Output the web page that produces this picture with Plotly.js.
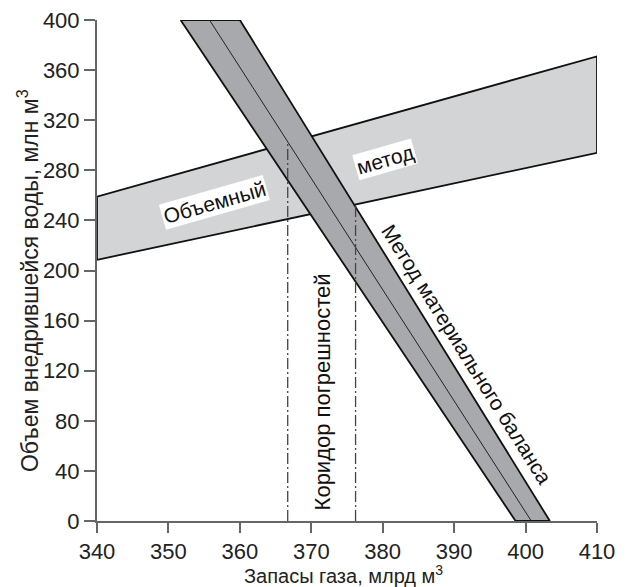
<!DOCTYPE html>
<html>
<head>
<meta charset="utf-8">
<script src="https://cdn.plot.ly/plotly-3.0.1.min.js"></script>
<style>html,body{margin:0;padding:0;background:#fff;}#chart{width:627px;height:587px;}</style>
</head>
<body>
<div id="chart"></div>
<script>
// Volumetric method band (x at left/right ends, lower and upper bounds)
const volX = [340, 410];
const volLower = [208.5, 294];
const volUpper = [259, 371];

// Material balance band: x positions at y = 400 (top) and y = 0 (bottom)
const mbY = [400, 0];
const mbLeftX = [351.7, 398.6];
const mbCenterX = [355.75, 400.8];
const mbRightX = [360, 403.4];

// Error corridor vertical lines
const corridorX = [366.7, 376.2];
const corridorTop = [301.5, 252.5];

const xTicks = [340, 350, 360, 370, 380, 390, 400, 410];
const yTicks = [0, 40, 80, 120, 160, 200, 240, 280, 320, 360, 400];

const xTitle = 'Запасы газа, млрд м<sup>3</sup>';
const yTitle = 'Объем внедрившейся воды, млн м<sup>3</sup>';

const FONT = 'Liberation Sans, Arial, Helvetica, sans-serif';

const traces = [
  {
    x: [volX[0], volX[1], volX[1], volX[0], volX[0]],
    y: [volLower[0], volLower[1], volUpper[1], volUpper[0], volLower[0]],
    mode: 'lines', fill: 'toself', fillcolor: '#d3d4d6',
    line: {color: '#111', width: 1.8}, cliponaxis: false, hoverinfo: 'skip'
  },
  {
    x: [mbLeftX[0], mbRightX[0], mbRightX[1], mbLeftX[1], mbLeftX[0]],
    y: [mbY[0], mbY[0], mbY[1], mbY[1], mbY[0]],
    mode: 'lines', fill: 'toself', fillcolor: '#a8a9ac',
    line: {color: '#111', width: 1.8}, cliponaxis: false, hoverinfo: 'skip'
  },
  {
    x: mbCenterX, y: mbY, mode: 'lines',
    line: {color: '#222', width: 1}, cliponaxis: false, hoverinfo: 'skip'
  },
  {
    x: [corridorX[0], corridorX[0]], y: [0, corridorTop[0]], mode: 'lines',
    line: {color: '#444', width: 1.3, dash: '11px,3px,2px,3px'}, hoverinfo: 'skip'
  },
  {
    x: [corridorX[1], corridorX[1]], y: [0, corridorTop[1]], mode: 'lines',
    line: {color: '#444', width: 1.3, dash: '11px,3px,2px,3px'}, hoverinfo: 'skip'
  }
];

const layout = {
  width: 627, height: 587,
  margin: {l: 97, r: 30, t: 20, b: 66},
  paper_bgcolor: '#fff', plot_bgcolor: '#fff',
  showlegend: false,
  font: {family: FONT, size: 22, color: '#222'},
  xaxis: {
    range: [340, 410], tickvals: xTicks, ticktext: xTicks.map(String),
    showgrid: false, zeroline: false, showline: true, linecolor: '#666', linewidth: 2,
    ticks: 'outside', ticklen: 10, tickwidth: 2, tickcolor: '#666',
    tickfont: {family: FONT, size: 22, color: '#222'},
    fixedrange: true
  },
  yaxis: {
    range: [0, 400], tickvals: yTicks, ticktext: yTicks.map(String),
    showgrid: false, zeroline: false, showline: true, linecolor: '#666', linewidth: 2,
    ticks: 'outside', ticklen: 11, tickwidth: 2, tickcolor: '#666',
    tickfont: {family: FONT, size: 22, color: '#222'},
    fixedrange: true
  },
  annotations: [
    {x: 0.492, y: -0.107, xref: 'paper', yref: 'paper', text: xTitle, showarrow: false,
     xanchor: 'center', yanchor: 'middle', font: {family: FONT, size: 20, color: '#222'}},
    {x: -0.138, y: 0.479, xref: 'paper', yref: 'paper', text: yTitle, showarrow: false,
     textangle: -90, xanchor: 'center', yanchor: 'middle', font: {family: FONT, size: 23, color: '#222'}},
    {x: 356.4, y: 254, xref: 'x', yref: 'y', text: 'Объемный', showarrow: false,
     textangle: -16, bgcolor: '#fff', borderpad: 1, font: {family: FONT, size: 21, color: '#111'}},
    {x: 380.3, y: 289, xref: 'x', yref: 'y', text: 'метод', showarrow: false,
     textangle: -16, bgcolor: '#fff', borderpad: 1, font: {family: FONT, size: 21, color: '#111'}},
    {x: 391.8, y: 133, xref: 'x', yref: 'y', text: 'Метод материального баланса', showarrow: false,
     textangle: 58, font: {family: FONT, size: 21, color: '#111'}},
    {x: 371.7, y: 103, xref: 'x', yref: 'y', text: 'Коридор погрешностей', showarrow: false,
     textangle: -90, font: {family: FONT, size: 22, color: '#111'}}
  ]
};

Plotly.newPlot('chart', traces, layout, {displayModeBar: false, staticPlot: true});
</script>
</body>
</html>
